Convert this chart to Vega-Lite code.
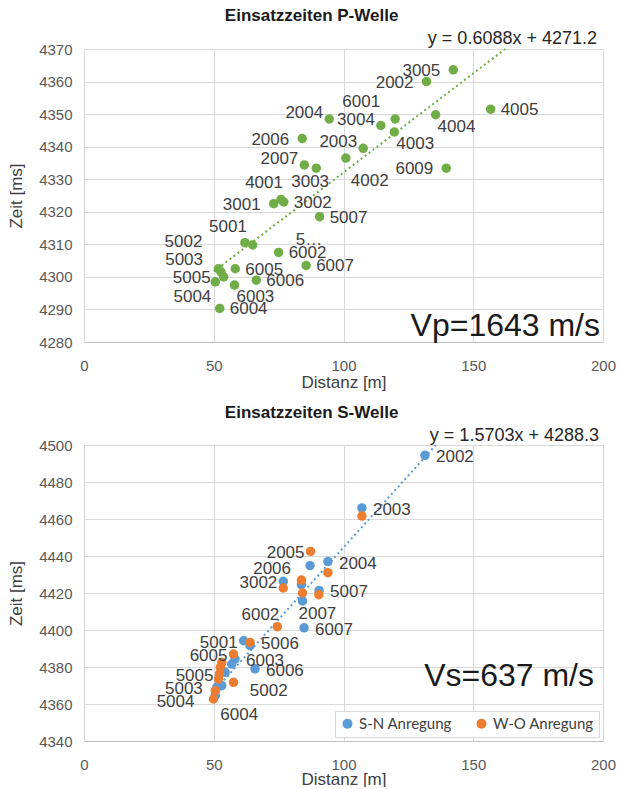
{
  "$schema": "https://vega.github.io/schema/vega-lite/v6.json",
  "background": "white",
  "padding": {"left": 7, "top": 7, "right": 0, "bottom": 0},
  "spacing": 14,
  "resolve": {"legend": {"color": "independent"}},
  "config": {
    "font": "Liberation Sans",
    "view": {"stroke": null},
    "axis": {
      "gridColor": "#d9d9d9",
      "gridWidth": 1,
      "ticks": false,
      "domain": false,
      "labelColor": "#595959",
      "labelFontSize": 15,
      "labelPadding": 12,
      "labelFlush": false,
      "titleColor": "#404040",
      "titleFontSize": 17,
      "titleFontWeight": "normal"
    },
    "title": {"fontSize": 17, "fontWeight": "bold", "color": "#1a1a1a", "offset": 5, "frame": "bounds"}
  },
  "datasets": {
    "p": [
      {"Station": "3005", "Distanz": 142.3, "Zeit": 4363.6},
      {"Station": "2002", "Distanz": 132.0, "Zeit": 4360.0},
      {"Station": "2004", "Distanz": 94.5, "Zeit": 4348.5},
      {"Station": "3004", "Distanz": 114.4, "Zeit": 4346.5},
      {"Station": "6001", "Distanz": 119.9, "Zeit": 4348.5},
      {"Station": "4004", "Distanz": 135.5, "Zeit": 4349.8},
      {"Station": "4003", "Distanz": 119.6, "Zeit": 4344.5},
      {"Station": "4005", "Distanz": 156.7, "Zeit": 4351.5},
      {"Station": "2006", "Distanz": 84.1, "Zeit": 4342.5},
      {"Station": "2003", "Distanz": 107.6, "Zeit": 4339.5},
      {"Station": "4002", "Distanz": 100.9, "Zeit": 4336.5},
      {"Station": "2007", "Distanz": 84.9, "Zeit": 4334.4},
      {"Station": "3003", "Distanz": 89.5, "Zeit": 4333.4},
      {"Station": "6009", "Distanz": 139.6, "Zeit": 4333.4},
      {"Station": "3001", "Distanz": 73.1, "Zeit": 4322.5},
      {"Station": "4001", "Distanz": 75.9, "Zeit": 4323.8},
      {"Station": "3002", "Distanz": 77.0, "Zeit": 4323.0},
      {"Station": "5007", "Distanz": 90.8, "Zeit": 4318.5},
      {"Station": "5001", "Distanz": 62.0, "Zeit": 4310.5},
      {"Station": "5006", "Distanz": 65.0, "Zeit": 4309.8},
      {"Station": "6002", "Distanz": 75.0, "Zeit": 4307.5},
      {"Station": "6007", "Distanz": 85.6, "Zeit": 4303.5},
      {"Station": "5002", "Distanz": 51.8, "Zeit": 4302.5},
      {"Station": "5003", "Distanz": 52.8, "Zeit": 4301.5},
      {"Station": "5005", "Distanz": 53.8, "Zeit": 4300.0},
      {"Station": "5004", "Distanz": 50.6, "Zeit": 4298.5},
      {"Station": "6005", "Distanz": 58.3, "Zeit": 4302.5},
      {"Station": "6006", "Distanz": 66.4, "Zeit": 4299.0},
      {"Station": "6003", "Distanz": 58.0, "Zeit": 4297.5},
      {"Station": "6004", "Distanz": 52.3, "Zeit": 4290.3}
    ],
    "ptrend": [
      {"Distanz": 50.0, "Zeit": 4301.64},
      {"Distanz": 162.3, "Zeit": 4370.0}
    ],
    "s": [
      {"Anregung": "S-N Anregung", "Station": "2002", "Distanz": 131.4, "Zeit": 4494.4},
      {"Anregung": "S-N Anregung", "Station": "2003", "Distanz": 107.1, "Zeit": 4466.0},
      {"Anregung": "S-N Anregung", "Station": "2004", "Distanz": 94.0, "Zeit": 4437.0},
      {"Anregung": "S-N Anregung", "Station": "2006", "Distanz": 87.1, "Zeit": 4434.8},
      {"Anregung": "S-N Anregung", "Station": "3002", "Distanz": 76.8, "Zeit": 4426.3},
      {"Anregung": "S-N Anregung", "Station": "3003", "Distanz": 83.8, "Zeit": 4424.5},
      {"Anregung": "S-N Anregung", "Station": "5007", "Distanz": 90.6, "Zeit": 4421.4},
      {"Anregung": "S-N Anregung", "Station": "2007", "Distanz": 84.2, "Zeit": 4415.7},
      {"Anregung": "S-N Anregung", "Station": "6007", "Distanz": 84.8, "Zeit": 4401.2},
      {"Anregung": "S-N Anregung", "Station": "5001", "Distanz": 61.5, "Zeit": 4394.2},
      {"Anregung": "S-N Anregung", "Station": "5006", "Distanz": 64.0, "Zeit": 4391.5},
      {"Anregung": "S-N Anregung", "Station": "6003", "Distanz": 58.2, "Zeit": 4384.3},
      {"Anregung": "S-N Anregung", "Station": "6005", "Distanz": 56.9, "Zeit": 4381.6},
      {"Anregung": "S-N Anregung", "Station": "6006", "Distanz": 65.9, "Zeit": 4379.0},
      {"Anregung": "S-N Anregung", "Station": "5005", "Distanz": 54.4, "Zeit": 4377.1},
      {"Anregung": "S-N Anregung", "Station": "5003", "Distanz": 53.1, "Zeit": 4369.9},
      {"Anregung": "S-N Anregung", "Station": "5002", "Distanz": 51.2, "Zeit": 4369.0},
      {"Anregung": "S-N Anregung", "Station": "6004", "Distanz": 50.6, "Zeit": 4364.5},
      {"Anregung": "W-O Anregung", "Station": "2003", "Distanz": 107.1, "Zeit": 4461.6},
      {"Anregung": "W-O Anregung", "Station": "2005", "Distanz": 87.3, "Zeit": 4442.5},
      {"Anregung": "W-O Anregung", "Station": "2004", "Distanz": 94.0, "Zeit": 4431.0},
      {"Anregung": "W-O Anregung", "Station": "2006", "Distanz": 83.8, "Zeit": 4427.0},
      {"Anregung": "W-O Anregung", "Station": "3002", "Distanz": 76.8, "Zeit": 4422.7},
      {"Anregung": "W-O Anregung", "Station": "2007", "Distanz": 84.2, "Zeit": 4420.0},
      {"Anregung": "W-O Anregung", "Station": "5007", "Distanz": 90.5, "Zeit": 4419.1},
      {"Anregung": "W-O Anregung", "Station": "6002", "Distanz": 74.5, "Zeit": 4401.8},
      {"Anregung": "W-O Anregung", "Station": "5006", "Distanz": 64.0, "Zeit": 4393.3},
      {"Anregung": "W-O Anregung", "Station": "6005", "Distanz": 57.6, "Zeit": 4387.0},
      {"Anregung": "W-O Anregung", "Station": "5001", "Distanz": 53.1, "Zeit": 4382.5},
      {"Anregung": "W-O Anregung", "Station": "6003", "Distanz": 52.5, "Zeit": 4379.8},
      {"Anregung": "W-O Anregung", "Station": "5005", "Distanz": 52.2, "Zeit": 4376.2},
      {"Anregung": "W-O Anregung", "Station": "5003", "Distanz": 51.8, "Zeit": 4373.5},
      {"Anregung": "W-O Anregung", "Station": "6006", "Distanz": 57.6, "Zeit": 4371.7},
      {"Anregung": "W-O Anregung", "Station": "6004", "Distanz": 50.6, "Zeit": 4367.2},
      {"Anregung": "W-O Anregung", "Station": "5004", "Distanz": 49.9, "Zeit": 4362.7}
    ],
    "strend": [
      {"Distanz": 50.0, "Zeit": 4366.82},
      {"Distanz": 135.6, "Zeit": 4500.0}
    ]
  },
  "vconcat": [
    {
      "title": "Einsatzzeiten P-Welle",
      "width": 519,
      "height": 293,
      "layer": [
        {
          "data": {"name": "p"},
          "encoding": {
            "x": {
              "field": "Distanz", "type": "quantitative",
              "scale": {"domain": [0, 200], "nice": false},
              "axis": {"values": [0, 50, 100, 150, 200], "title": "Distanz [m]", "domain": true, "domainColor": "#bfbfbf", "labelPadding": 16, "titlePadding": 1}
            },
            "y": {
              "field": "Zeit", "type": "quantitative",
              "scale": {"domain": [4280, 4370], "nice": false, "zero": false},
              "axis": {"values": [4280, 4290, 4300, 4310, 4320, 4330, 4340, 4350, 4360, 4370], "format": "d", "title": "Zeit [ms]", "titlePadding": 13}
            }
          },
          "layer": [
            {
              "data": {"name": "ptrend"},
              "mark": {"type": "line", "color": "#70ad47", "strokeWidth": 2, "strokeDash": [2, 3]}
            },
            {
              "mark": {"type": "circle", "size": 90, "opacity": 1, "color": "#70ad47"}
            },
            {
              "transform": [{"filter": {"field": "Station", "oneOf": ["3005", "2002", "2006", "6009", "3001", "5005"]}}],
              "mark": {"type": "text", "align": "right", "baseline": "middle", "dx": -13, "dy": 1, "fontSize": 17, "color": "#404040"},
              "encoding": {"text": {"field": "Station"}}
            },
            {
              "transform": [{"filter": {"field": "Station", "oneOf": ["2004", "2003", "3004", "2007"]}}],
              "mark": {"type": "text", "align": "right", "baseline": "middle", "dx": -6, "dy": -6, "fontSize": 17, "color": "#404040"},
              "encoding": {"text": {"field": "Station"}}
            },
            {
              "transform": [{"filter": {"field": "Station", "oneOf": ["4001", "5001"]}}],
              "mark": {"type": "text", "align": "right", "baseline": "middle", "dx": 2, "dy": -16, "fontSize": 17, "color": "#404040"},
              "encoding": {"text": {"field": "Station"}}
            },
            {
              "transform": [{"filter": {"field": "Station", "oneOf": ["6001"]}}],
              "mark": {"type": "text", "align": "right", "baseline": "middle", "dx": -15, "dy": -17, "fontSize": 17, "color": "#404040"},
              "encoding": {"text": {"field": "Station"}}
            },
            {
              "transform": [{"filter": {"field": "Station", "oneOf": ["4005", "3002", "5007", "6007", "6006", "6004", "6005", "6002"]}}],
              "mark": {"type": "text", "align": "left", "baseline": "middle", "dx": 10, "dy": 1, "fontSize": 17, "color": "#404040"},
              "encoding": {"text": {"field": "Station"}}
            },
            {
              "transform": [{"filter": {"field": "Station", "oneOf": ["4004", "4003", "6003"]}}],
              "mark": {"type": "text", "align": "left", "baseline": "middle", "dx": 2, "dy": 12, "fontSize": 17, "color": "#404040"},
              "encoding": {"text": {"field": "Station"}}
            },
            {
              "transform": [{"filter": {"field": "Station", "equal": "4002"}}],
              "mark": {"type": "text", "align": "left", "baseline": "middle", "dx": 5, "dy": 23, "fontSize": 17, "color": "#404040"},
              "encoding": {"text": {"field": "Station"}}
            },
            {
              "transform": [{"filter": {"field": "Station", "equal": "3003"}}],
              "mark": {"type": "text", "align": "left", "baseline": "middle", "dx": -25, "dy": 14, "fontSize": 17, "color": "#404040"},
              "encoding": {"text": {"field": "Station"}}
            },
            {
              "transform": [{"filter": {"field": "Station", "equal": "5002"}}],
              "mark": {"type": "text", "align": "right", "baseline": "middle", "dx": -16, "dy": -27, "fontSize": 17, "color": "#404040"},
              "encoding": {"text": {"field": "Station"}}
            },
            {
              "transform": [{"filter": {"field": "Station", "equal": "5003"}}],
              "mark": {"type": "text", "align": "right", "baseline": "middle", "dx": -18, "dy": -12, "fontSize": 17, "color": "#404040"},
              "encoding": {"text": {"field": "Station"}}
            },
            {
              "transform": [{"filter": {"field": "Station", "equal": "5004"}}],
              "mark": {"type": "text", "align": "right", "baseline": "middle", "dx": -4, "dy": 15, "fontSize": 17, "color": "#404040"},
              "encoding": {"text": {"field": "Station"}}
            },
            {
              "transform": [{"filter": {"field": "Station", "equal": "5006"}}],
              "mark": {"type": "text", "align": "left", "baseline": "middle", "dx": 43, "dy": -5, "fontSize": 17, "color": "#404040", "text": "5…"},
              "encoding": {}
            }
          ]
        },
        {
          "data": {"values": [{"Text": "y = 0.6088x + 4271.2"}, {"Text": "Vp=1643 m/s"}]},
          "encoding": {
            "x": {
              "datum": 200, "type": "quantitative",
              "scale": {"domain": [0, 200], "nice": false},
              "axis": {"values": [0, 50, 100, 150, 200], "title": "Distanz [m]", "domain": true, "domainColor": "#bfbfbf", "labelPadding": 16, "titlePadding": 1}
            },
            "text": {"field": "Text"}
          },
          "layer": [
            {
              "transform": [{"filter": "datum.Text === 'y = 0.6088x + 4271.2'"}],
              "mark": {"type": "text", "align": "right", "baseline": "middle", "dx": -6, "dy": -10, "fontSize": 18, "color": "#262626"},
              "encoding": {
                "y": {
                  "datum": 4370, "type": "quantitative",
                  "scale": {"domain": [4280, 4370], "nice": false, "zero": false},
                  "axis": {"values": [4280, 4290, 4300, 4310, 4320, 4330, 4340, 4350, 4360, 4370], "format": "d", "title": "Zeit [ms]", "titlePadding": 13}
                }
              }
            },
            {
              "transform": [{"filter": "datum.Text === 'Vp=1643 m/s'"}],
              "mark": {"type": "text", "align": "right", "baseline": "middle", "dx": -3, "fontSize": 32, "color": "#1a1a1a"},
              "encoding": {
                "y": {
                  "datum": 4285, "type": "quantitative",
                  "scale": {"domain": [4280, 4370], "nice": false, "zero": false},
                  "axis": {"values": [4280, 4290, 4300, 4310, 4320, 4330, 4340, 4350, 4360, 4370], "format": "d", "title": "Zeit [ms]", "titlePadding": 13}
                }
              }
            }
          ]
        }
      ]
    },
    {
      "title": "Einsatzzeiten S-Welle",
      "width": 519,
      "height": 296,
      "layer": [
        {
          "data": {"name": "s"},
          "encoding": {
            "x": {
              "field": "Distanz", "type": "quantitative",
              "scale": {"domain": [0, 200], "nice": false},
              "axis": {"values": [0, 50, 100, 150, 200], "title": "Distanz [m]", "domain": true, "domainColor": "#bfbfbf", "labelPadding": 16, "titlePadding": -1}
            },
            "y": {
              "field": "Zeit", "type": "quantitative",
              "scale": {"domain": [4340, 4500], "nice": false, "zero": false},
              "axis": {"values": [4340, 4360, 4380, 4400, 4420, 4440, 4460, 4480, 4500], "format": "d", "title": "Zeit [ms]", "titlePadding": 13}
            }
          },
          "layer": [
            {
              "data": {"name": "strend"},
              "mark": {"type": "line", "color": "#5b9bd5", "strokeWidth": 2, "strokeDash": [2, 3]}
            },
            {
              "mark": {"type": "circle", "size": 90, "opacity": 1},
              "encoding": {
                "color": {
                  "field": "Anregung", "type": "nominal",
                  "scale": {"domain": ["S-N Anregung", "W-O Anregung"], "range": ["#5b9bd5", "#ed7d31"]},
                  "legend": {
                    "orient": "bottom-right", "direction": "horizontal", "title": null,
                    "strokeColor": "#d9d9d9", "fillColor": "white", "padding": 5, "offset": 4,
                    "labelFont": "Lato", "labelFontSize": 15, "labelColor": "#404040",
                    "symbolType": "circle", "symbolSize": 100, "symbolOpacity": 1, "columnPadding": 22
                  }
                }
              }
            },
            {
              "transform": [{"filter": "(datum.Anregung === 'S-N Anregung' && indexof(['2002','2003','2004','5007','6006','6007','6003'], datum.Station) >= 0) || (datum.Anregung === 'W-O Anregung' && datum.Station === '5006')"}],
              "mark": {"type": "text", "align": "left", "baseline": "middle", "dx": 11, "dy": 2, "fontSize": 17, "color": "#404040"},
              "encoding": {"text": {"field": "Station"}}
            },
            {
              "transform": [{"filter": "(datum.Anregung === 'S-N Anregung' && indexof(['3002','5001'], datum.Station) >= 0) || (datum.Anregung === 'W-O Anregung' && indexof(['6005','5005','2005'], datum.Station) >= 0)"}],
              "mark": {"type": "text", "align": "right", "baseline": "middle", "dx": -6, "dy": 2, "fontSize": 17, "color": "#404040"},
              "encoding": {"text": {"field": "Station"}}
            },
            {
              "transform": [{"filter": "(datum.Anregung === 'S-N Anregung' && indexof(['2006','5003'], datum.Station) >= 0) || (datum.Anregung === 'W-O Anregung' && datum.Station === '5004')"}],
              "mark": {"type": "text", "align": "right", "baseline": "middle", "dx": -19, "dy": 3, "fontSize": 17, "color": "#404040"},
              "encoding": {"text": {"field": "Station"}}
            },
            {
              "transform": [{"filter": "datum.Anregung === 'S-N Anregung' && datum.Station === '2007'"}],
              "mark": {"type": "text", "align": "left", "baseline": "middle", "dx": -4, "dy": 13, "fontSize": 17, "color": "#404040"},
              "encoding": {"text": {"field": "Station"}}
            },
            {
              "transform": [{"filter": "datum.Anregung === 'W-O Anregung' && datum.Station === '6002'"}],
              "mark": {"type": "text", "align": "right", "baseline": "middle", "dx": 2, "dy": -12, "fontSize": 17, "color": "#404040"},
              "encoding": {"text": {"field": "Station"}}
            },
            {
              "transform": [{"filter": "datum.Anregung === 'S-N Anregung' && datum.Station === '5002'"}],
              "mark": {"type": "text", "align": "left", "baseline": "middle", "dx": 33, "dy": 4, "fontSize": 17, "color": "#404040"},
              "encoding": {"text": {"field": "Station"}}
            },
            {
              "transform": [{"filter": "datum.Anregung === 'S-N Anregung' && datum.Station === '6004'"}],
              "mark": {"type": "text", "align": "left", "baseline": "middle", "dx": 5, "dy": 19, "fontSize": 17, "color": "#404040"},
              "encoding": {"text": {"field": "Station"}}
            }
          ]
        },
        {
          "data": {"values": [{"Text": "y = 1.5703x + 4288.3"}, {"Text": "Vs=637 m/s"}]},
          "encoding": {
            "x": {
              "datum": 200, "type": "quantitative",
              "scale": {"domain": [0, 200], "nice": false},
              "axis": {"values": [0, 50, 100, 150, 200], "title": "Distanz [m]", "domain": true, "domainColor": "#bfbfbf", "labelPadding": 16, "titlePadding": -1}
            },
            "text": {"field": "Text"}
          },
          "layer": [
            {
              "transform": [{"filter": "datum.Text === 'y = 1.5703x + 4288.3'"}],
              "mark": {"type": "text", "align": "right", "baseline": "middle", "dx": -4, "dy": -9, "fontSize": 18, "color": "#262626"},
              "encoding": {
                "y": {
                  "datum": 4500, "type": "quantitative",
                  "scale": {"domain": [4340, 4500], "nice": false, "zero": false},
                  "axis": {"values": [4340, 4360, 4380, 4400, 4420, 4440, 4460, 4480, 4500], "format": "d", "title": "Zeit [ms]", "titlePadding": 13}
                }
              }
            },
            {
              "transform": [{"filter": "datum.Text === 'Vs=637 m/s'"}],
              "mark": {"type": "text", "align": "right", "baseline": "middle", "dx": -9, "fontSize": 32, "color": "#1a1a1a"},
              "encoding": {
                "y": {
                  "datum": 4375, "type": "quantitative",
                  "scale": {"domain": [4340, 4500], "nice": false, "zero": false},
                  "axis": {"values": [4340, 4360, 4380, 4400, 4420, 4440, 4460, 4480, 4500], "format": "d", "title": "Zeit [ms]", "titlePadding": 13}
                }
              }
            }
          ]
        }
      ]
    }
  ]
}
